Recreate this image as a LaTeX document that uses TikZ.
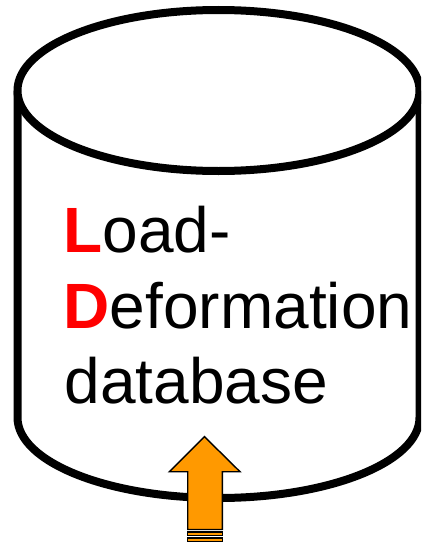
\documentclass[tikz,border=0pt]{standalone}
\usepackage{fontspec}
\setmainfont{Liberation Sans}
\definecolor{arroworange}{HTML}{FF9900}
\begin{document}
\begin{tikzpicture}[x=1pt,y=-1pt,
  cyl/.style={draw=black,line width=8pt,fill=white,line join=round},
  arrowshape/.style={draw=black,line width=1.4pt,fill=arroworange,line join=miter},
  label/.style={inner sep=0pt,anchor=base west,font=\fontsize{64}{75.5}\selectfont}]
\useasboundingbox (0,0) rectangle (421,543);
\begin{scope}
\clip (0,0) rectangle (421,543);
% cylinder body
\draw[cyl] (17.5,90.5) -- (17.5,417.5)
  arc[start angle=180,end angle=360,x radius=201,y radius=-80.5]
  -- (419.5,90.5);
% top ellipse
\draw[cyl] (218.5,90.5) ellipse[x radius=201,y radius=80.5];
% arrow
\draw[arrowshape] (204.5,436.7) -- (240,471.7) -- (222.3,471.7) -- (222.3,529.5)
  -- (187.7,529.5) -- (187.7,471.7) -- (169.3,471.7) -- cycle;
\draw[arrowshape] (187.7,531.8) rectangle (222.3,535.2);
\draw[arrowshape] (187.7,537.8) rectangle (222.3,541.2);
\end{scope}
\node[label] (l1) at (63.5,252) {\textcolor{red}{\bfseries L}oad-};
\node[label] (l2) at (63.5,328) {\textcolor{red}{\bfseries D}eformation};
\node[label] (l3) at (64.5,403) {database};
\end{tikzpicture}
\end{document}
